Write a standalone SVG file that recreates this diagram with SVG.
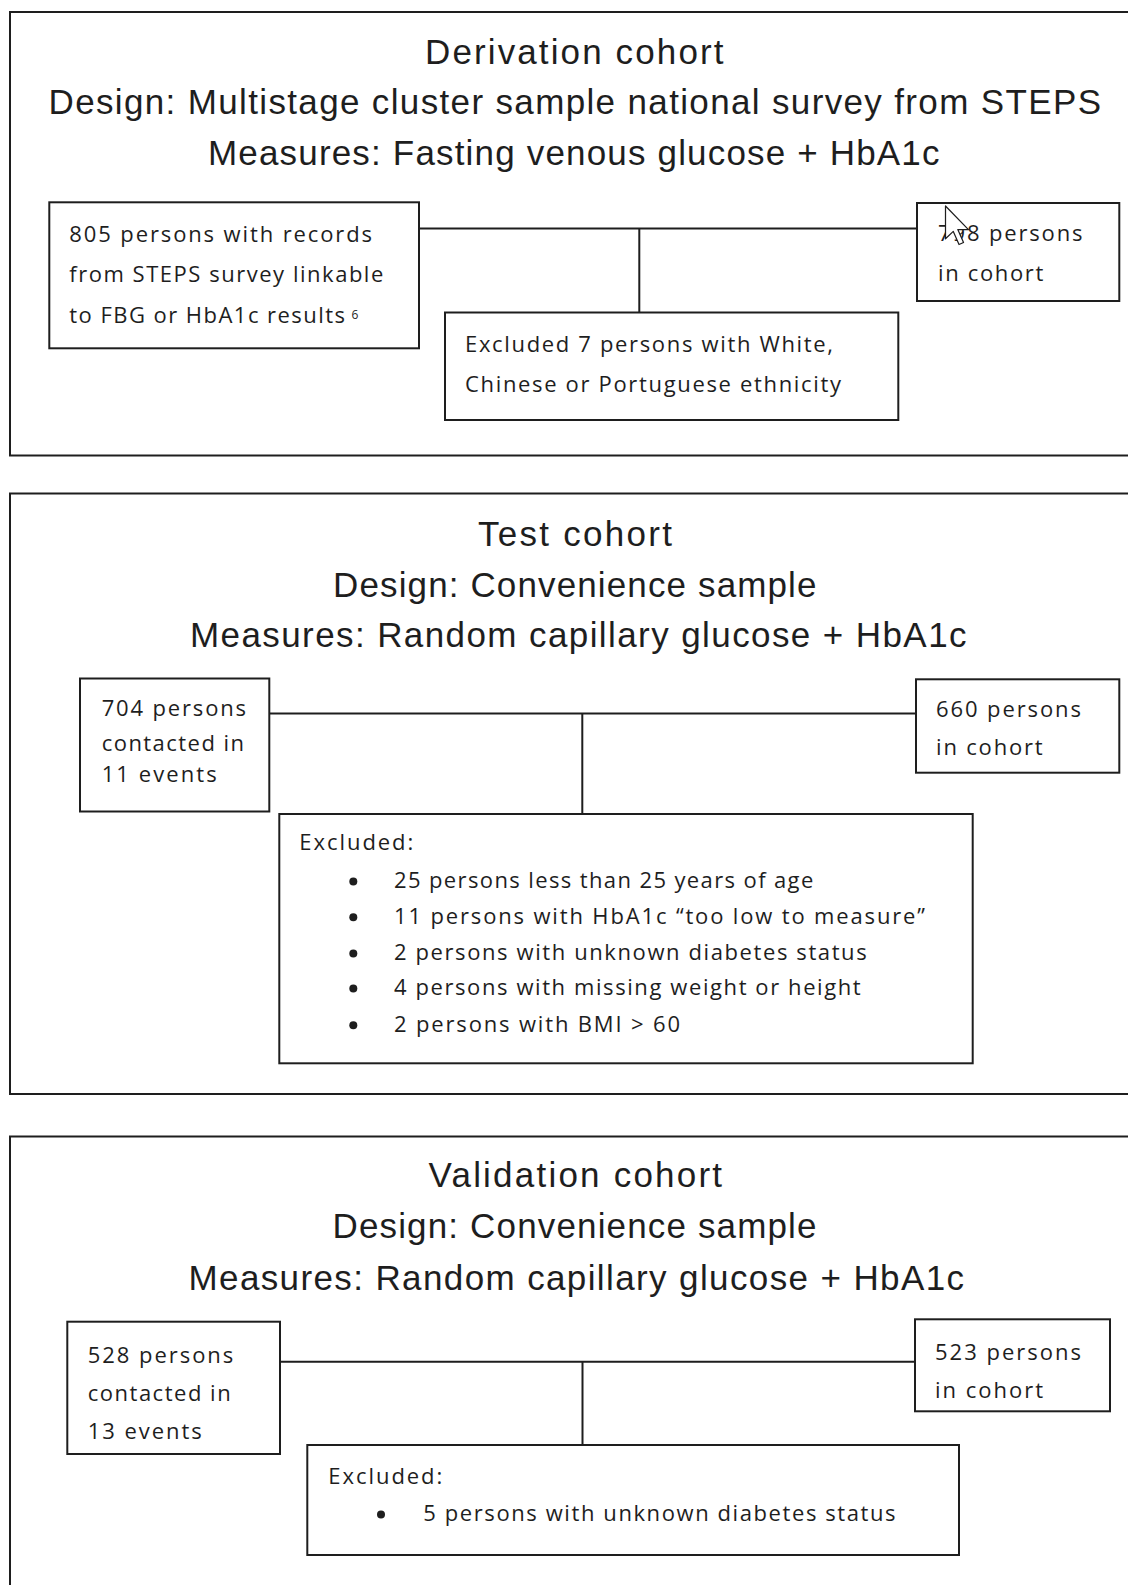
<svg xmlns="http://www.w3.org/2000/svg" width="1128" height="1585" viewBox="0 0 1128 1585">
<defs>
<style>
.frame{fill:#ffffff;stroke:#1e1e1e;stroke-width:2}
.box{fill:#ffffff;stroke:#1e1e1e;stroke-width:2}
.conn{fill:none;stroke:#1e1e1e;stroke-width:2}
.title{font-family:"Liberation Sans",Arial,sans-serif;font-size:35px;fill:#1e1e1e}
.body{font-family:"Open Sans","Liberation Sans",Arial,sans-serif;font-size:22px;fill:#1e1e1e}
.sup{font-family:"Open Sans","Liberation Sans",Arial,sans-serif;font-size:12px;fill:#1e1e1e}
.bullet{fill:#1e1e1e}
</style>
</defs>
<rect width="1128" height="1585" fill="#ffffff"/>

<!-- Section 1: Derivation cohort -->
<g id="derivation-cohort">
<rect class="frame" x="10" y="12" width="1125" height="443.5"/>
<text class="title" x="425" y="64" textLength="298.5" lengthAdjust="spacing">Derivation cohort</text>
<text class="title" x="48.5" y="114" textLength="1052.5" lengthAdjust="spacing">Design: Multistage cluster sample national survey from STEPS</text>
<text class="title" x="208" y="165" textLength="731.5" lengthAdjust="spacing">Measures: Fasting venous glucose + HbA1c</text>
</g>

<!-- Section 2: Test cohort -->
<g id="test-cohort">
<rect class="frame" x="10" y="493.5" width="1125" height="600.5"/>
<text class="title" x="478" y="545.5" textLength="194" lengthAdjust="spacing">Test cohort</text>
<text class="title" x="333" y="596.5" textLength="483.5" lengthAdjust="spacing">Design: Convenience sample</text>
<text class="title" x="190" y="646.5" textLength="776.5" lengthAdjust="spacing">Measures: Random capillary glucose + HbA1c</text>
</g>

<!-- Section 3: Validation cohort -->
<g id="validation-cohort">
<rect class="frame" x="10" y="1136.5" width="1125" height="460"/>
<text class="title" x="428.5" y="1187" textLength="293.5" lengthAdjust="spacing">Validation cohort</text>
<text class="title" x="332.5" y="1238" textLength="484" lengthAdjust="spacing">Design: Convenience sample</text>
<text class="title" x="188.5" y="1290" textLength="775.5" lengthAdjust="spacing">Measures: Random capillary glucose + HbA1c</text>
</g>

<!-- Connectors -->
<g id="connectors">
<path class="conn" d="M419 228.5 H917 M639.3 228.5 V312.5"/>
<path class="conn" d="M269.3 713.5 H916 M582.3 713.5 V814"/>
<path class="conn" d="M280 1361.7 H915 M582.5 1361.7 V1445"/>
</g>

<!-- Derivation nodes -->
<g id="deriv-start">
<rect class="box" x="49.3" y="202.3" width="369.7" height="146"/>
<text class="body" x="69.3" y="241.5" textLength="302.7" lengthAdjust="spacing">805 persons with records</text>
<text class="body" x="69.3" y="282.3" textLength="314" lengthAdjust="spacing">from STEPS survey linkable</text>
<text class="body" x="69.3" y="323" textLength="275.7" lengthAdjust="spacing">to FBG or HbA1c results</text>
<text class="sup" x="351.5" y="319">6</text>
</g>
<g id="deriv-cohort">
<rect class="box" x="917" y="203" width="202.3" height="98"/>
<text class="body" x="938" y="241" textLength="144.5" lengthAdjust="spacing">798 persons</text>
<text class="body" x="938" y="281" textLength="105.3" lengthAdjust="spacing">in cohort</text>
<path d="M0 0 L0 16 L3.8 12.4 L6.6 18.8 L8.8 17.8 L6 11.5 L11.2 11.5 Z" transform="translate(945.5 206) scale(2.05)" fill="#ffffff" stroke="#1e1e1e" stroke-width="0.6" stroke-linejoin="round"/>
</g>
<g id="deriv-excluded">
<rect class="box" x="445" y="312.5" width="453.3" height="107.5"/>
<text class="body" x="465" y="352.3" textLength="368" lengthAdjust="spacing">Excluded 7 persons with White,</text>
<text class="body" x="465" y="391.7" textLength="376" lengthAdjust="spacing">Chinese or Portuguese ethnicity</text>
</g>

<!-- Test nodes -->
<g id="test-start">
<rect class="box" x="80" y="678.5" width="189.3" height="133"/>
<text class="body" x="101.7" y="715.7" textLength="144.3" lengthAdjust="spacing">704 persons</text>
<text class="body" x="101.7" y="751" textLength="142.3" lengthAdjust="spacing">contacted in</text>
<text class="body" x="101.7" y="782.3" textLength="115" lengthAdjust="spacing">11 events</text>
</g>
<g id="test-cohort-node">
<rect class="box" x="916" y="679.3" width="203.3" height="93.4"/>
<text class="body" x="936" y="716.7" textLength="145" lengthAdjust="spacing">660 persons</text>
<text class="body" x="936" y="755" textLength="106.7" lengthAdjust="spacing">in cohort</text>
</g>
<g id="test-excluded">
<rect class="box" x="279.3" y="814" width="693.4" height="249.3"/>
<text class="body" x="299.3" y="850" textLength="114" lengthAdjust="spacing">Excluded:</text>
<circle class="bullet" cx="353.3" cy="881.5" r="4"/>
<text class="body" x="394" y="888.3" textLength="419.3" lengthAdjust="spacing">25 persons less than 25 years of age</text>
<circle class="bullet" cx="353.3" cy="917.2" r="4"/>
<text class="body" x="394" y="924" textLength="531" lengthAdjust="spacing">11 persons with HbA1c “too low to measure”</text>
<circle class="bullet" cx="353.3" cy="953.5" r="4"/>
<text class="body" x="394" y="960" textLength="472.7" lengthAdjust="spacing">2 persons with unknown diabetes status</text>
<circle class="bullet" cx="353.3" cy="988.5" r="4"/>
<text class="body" x="394" y="995" textLength="466.7" lengthAdjust="spacing">4 persons with missing weight or height</text>
<circle class="bullet" cx="353.3" cy="1025.2" r="4"/>
<text class="body" x="394" y="1031.7" textLength="286" lengthAdjust="spacing">2 persons with BMI &gt; 60</text>
</g>

<!-- Validation nodes -->
<g id="valid-start">
<rect class="box" x="67.3" y="1321.7" width="212.7" height="132.3"/>
<text class="body" x="87.7" y="1363.3" textLength="145.6" lengthAdjust="spacing">528 persons</text>
<text class="body" x="87.7" y="1400.7" textLength="143" lengthAdjust="spacing">contacted in</text>
<text class="body" x="87.7" y="1439.3" textLength="114" lengthAdjust="spacing">13 events</text>
</g>
<g id="valid-cohort">
<rect class="box" x="915" y="1319.3" width="195" height="92"/>
<text class="body" x="935" y="1360" textLength="146" lengthAdjust="spacing">523 persons</text>
<text class="body" x="935" y="1398" textLength="108" lengthAdjust="spacing">in cohort</text>
</g>
<g id="valid-excluded">
<rect class="box" x="307.3" y="1445" width="651.7" height="110"/>
<text class="body" x="328.3" y="1484" textLength="114" lengthAdjust="spacing">Excluded:</text>
<circle class="bullet" cx="381" cy="1514.5" r="4"/>
<text class="body" x="423.3" y="1520.7" textLength="472.3" lengthAdjust="spacing">5 persons with unknown diabetes status</text>
</g>
</svg>
